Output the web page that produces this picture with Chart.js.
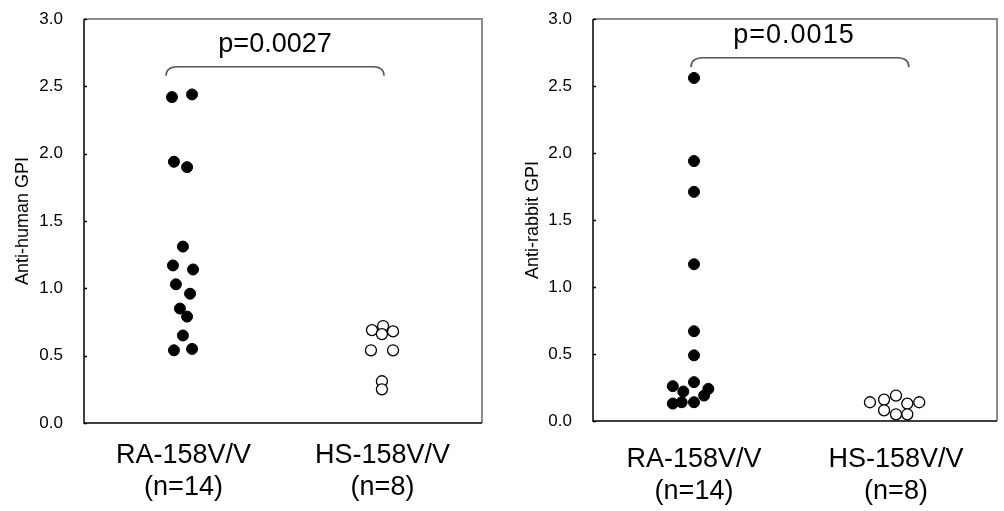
<!DOCTYPE html>
<html>
<head>
<meta charset="utf-8">
<script src="https://cdn.jsdelivr.net/npm/chart.js@4.4.0/dist/chart.umd.min.js"></script>
<style>
html, body { margin: 0; padding: 0; background: #fff; }
#wrap { position: relative; width: 1004px; height: 511px; }
#c1 { position: absolute; left: 0; top: 0; }
#c2 { position: absolute; left: 500px; top: 0; }
</style>
</head>
<body>
<div id="wrap">
  <canvas id="c1" width="500" height="511" style="width:500px;height:511px"></canvas>
  <canvas id="c2" width="504" height="511" style="width:504px;height:511px"></canvas>
</div>
<script>
// categories and tick labels
const groups = ['RA-158V/V', 'HS-158V/V'];
const groupN = ['(n=14)', '(n=8)'];
const yTicks = [0, 0.5, 1.0, 1.5, 2.0, 2.5, 3.0];

// anti-human GPI values + horizontal jitter (category units)
const humanRA = [2.42, 2.44, 1.94, 1.90, 1.31, 1.17, 1.14, 1.03, 0.96, 0.85, 0.79, 0.65, 0.54, 0.55];
const humanRAjit = [-0.058, 0.043, -0.048, 0.018, -0.003, -0.053, 0.048, -0.038, 0.033, -0.018, 0.018, -0.003, -0.048, 0.043];
const humanHS = [0.69, 0.72, 0.66, 0.68, 0.54, 0.54, 0.31, 0.25];
const humanHSjit = [-0.053, 0.003, -0.003, 0.053, -0.058, 0.053, -0.003, -0.003];

// anti-rabbit GPI values + jitter
const rabbitRA = [2.56, 1.94, 1.71, 1.17, 0.67, 0.49, 0.29, 0.26, 0.22, 0.24, 0.13, 0.14, 0.14, 0.19];
const rabbitRAjit = [0, 0, 0, 0, 0, 0, 0, -0.105, -0.053, 0.071, -0.105, -0.061, 0, 0.05];
const rabbitHS = [0.14, 0.16, 0.19, 0.13, 0.14, 0.08, 0.05, 0.05];
const rabbitHSjit = [-0.129, -0.059, 0, 0.056, 0.115, -0.059, 0, 0.056];

const FONT = '"Liberation Sans", Arial, sans-serif';

function pts(vals, jit, center) {
    return vals.map((v, i) => ({x: center + jit[i], y: v}));
}

// box, inward ticks, bracket and p value
const panelDecor = {
    id: 'panelDecor',
    beforeDatasetsDraw(chart) {
        const {ctx, chartArea: a, scales: {y}} = chart;
        ctx.save();
        ctx.strokeStyle = '#8c8c8c';
        ctx.lineWidth = 2;
        ctx.beginPath();
        ctx.moveTo(a.left, a.top);
        ctx.lineTo(a.right, a.top);
        ctx.lineTo(a.right, a.bottom);
        ctx.stroke();
        ctx.strokeStyle = '#000';
        ctx.lineWidth = 1.5;
        ctx.beginPath();
        ctx.moveTo(a.left, a.top);
        ctx.lineTo(a.left, a.bottom);
        ctx.lineTo(a.right, a.bottom);
        y.ticks.forEach(t => {
            const py = Math.round(y.getPixelForValue(t.value)) + 0.5;
            ctx.moveTo(a.left, py);
            ctx.lineTo(a.left + 3, py);
        });
        ctx.stroke();
        ctx.restore();
    },
    afterDatasetsDraw(chart, args, o) {
        const {ctx, scales: {x, y}} = chart;
        const x1 = x.getPixelForValue(o.x1), x2 = x.getPixelForValue(o.x2);
        const yt = y.getPixelForValue(o.yTop), ye = y.getPixelForValue(o.yEnd);
        const r = 12;
        ctx.save();
        ctx.strokeStyle = '#555';
        ctx.lineWidth = 1.5;
        ctx.beginPath();
        ctx.moveTo(x1, ye);
        ctx.quadraticCurveTo(x1, yt, x1 + r, yt);
        ctx.lineTo(x2 - r, yt);
        ctx.quadraticCurveTo(x2, yt, x2, ye);
        ctx.stroke();
        ctx.fillStyle = '#000';
        ctx.font = '27px ' + FONT;
        if (o.spacing) ctx.letterSpacing = o.spacing;
        ctx.textAlign = 'center';
        ctx.textBaseline = 'middle';
        ctx.fillText(o.label, x.getPixelForValue(o.xText), y.getPixelForValue(o.yText));
        ctx.restore();
    }
};

function makeConfig(ra, raJit, hs, hsJit, title, yWidth, xHeight, padRight, titlePad, labelPad, sig) {
    return {
        type: 'scatter',
        data: {
            datasets: [{
                data: pts(ra, raJit, 0.5),
                pointRadius: 5.5,
                pointBackgroundColor: '#000',
                pointBorderColor: '#000',
                pointBorderWidth: 1
            }, {
                data: pts(hs, hsJit, 1.5),
                pointRadius: 5.5,
                pointBackgroundColor: '#fff',
                pointBorderColor: '#000',
                pointBorderWidth: 1.3
            }]
        },
        options: {
            responsive: false,
            animation: false,
            layout: {autoPadding: false, padding: {top: 19, right: padRight, left: 0, bottom: 0}},
            plugins: {
                legend: {display: false},
                tooltip: {enabled: false},
                panelDecor: sig
            },
            scales: {
                x: {
                    type: 'linear',
                    min: 0,
                    max: 2,
                    grid: {display: false, drawTicks: false},
                    border: {display: false},
                    afterBuildTicks: s => { s.ticks = [{value: 0.5}, {value: 1.5}]; },
                    afterFit: s => { s.height = xHeight; s.paddingLeft = 0; s.paddingRight = 0; },
                    ticks: {
                        color: '#000',
                        padding: labelPad,
                        maxRotation: 0,
                        font: {family: FONT, size: 27, lineHeight: 1.2},
                        callback: v => { const i = v < 1 ? 0 : 1; return [groups[i], groupN[i]]; }
                    }
                },
                y: {
                    min: 0,
                    max: 3,
                    grid: {display: false, drawTicks: false},
                    border: {display: false},
                    afterBuildTicks: s => { s.ticks = yTicks.map(v => ({value: v})); },
                    afterFit: s => { s.width = yWidth; s.paddingTop = 0; s.paddingBottom = 0; },
                    ticks: {
                        color: '#000',
                        padding: 21,
                        font: {family: FONT, size: 17},
                        callback: v => v.toFixed(1)
                    },
                    title: {
                        display: true,
                        text: title,
                        color: '#000',
                        padding: {top: titlePad, bottom: 0},
                        font: {family: FONT, size: 18, lineHeight: 1.2}
                    }
                }
            }
        },
        plugins: [panelDecor]
    };
}

const chart1 = new Chart(document.getElementById('c1'),
    makeConfig(humanRA, humanRAjit, humanHS, humanHSjit, 'Anti-human GPI', 84, 88, 18, 12, 16,
        {label: 'p=0.0027', x1: 0.412, x2: 1.508, yTop: 2.645, yEnd: 2.578, xText: 0.96, yText: 2.81}));

const chart2 = new Chart(document.getElementById('c2'),
    makeConfig(rabbitRA, rabbitRAjit, rabbitHS, rabbitHSjit, 'Anti-rabbit GPI', 93, 90, 7, 22, 22,
        {label: 'p=0.0015', x1: 0.485, x2: 1.564, yTop: 2.71, yEnd: 2.64, xText: 0.995, yText: 2.88, spacing: '1px'}));
</script>
</body>
</html>
